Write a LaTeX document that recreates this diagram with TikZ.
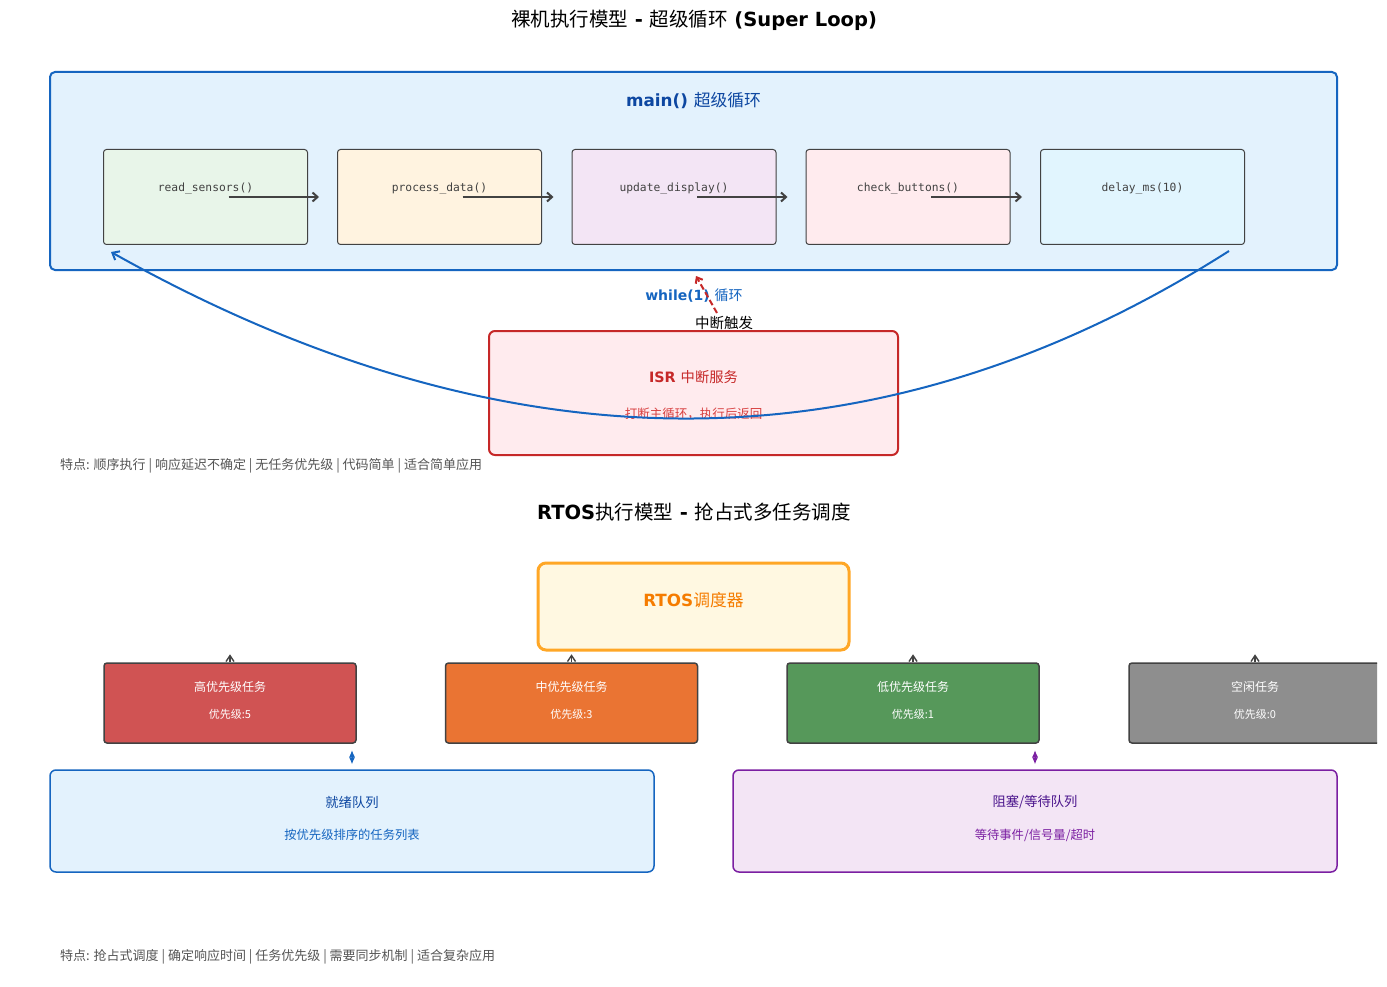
\documentclass[tikz,border=0pt]{standalone}
\usepackage{fontspec}
\setmainfont{DejaVu Sans}
\setmonofont{DejaVu Sans Mono}
\newfontfamily\zhfont{Noto Sans CJK SC}
\usetikzlibrary{arrows.meta,positioning,calc}

\newcommand{\pxs}[1]{\fontsize{#1}{#1}\selectfont}
\newcommand{\zh}[1]{{\zhfont\mdseries #1}}

\definecolor{loopblue}{HTML}{1565C0}
\definecolor{loopdark}{HTML}{0D47A1}
\definecolor{loopfill}{HTML}{E3F2FD}
\definecolor{boxgray}{HTML}{424242}
\definecolor{fA}{HTML}{E8F5E9}
\definecolor{fB}{HTML}{FFF3E0}
\definecolor{fC}{HTML}{F3E5F5}
\definecolor{fD}{HTML}{FFEBEE}
\definecolor{fE}{HTML}{E1F5FE}
\definecolor{isrred}{HTML}{C62828}
\definecolor{isrtext}{HTML}{D84040}
\definecolor{schedline}{HTML}{FFA726}
\definecolor{schedfill}{HTML}{FFF8E1}
\definecolor{schedtext}{HTML}{F57C00}
\definecolor{tHigh}{HTML}{D05353}
\definecolor{tMid}{HTML}{EA7433}
\definecolor{tLow}{HTML}{56985A}
\definecolor{tIdle}{HTML}{8E8E8E}
\definecolor{waitline}{HTML}{7B1FA2}
\definecolor{waitdark}{HTML}{4A148C}
\definecolor{waitfill}{HTML}{F3E5F5}
\definecolor{notegray}{HTML}{555555}

\tikzset{
    mainbox/.style={draw=loopblue, fill=loopfill, line width=2pt, rounded corners=5pt,
        minimum width=1287pt, minimum height=198pt, inner sep=0pt},
    funcbox/.style={draw=boxgray, line width=1pt, rounded corners=3pt,
        minimum width=204pt, minimum height=95pt, inner sep=0pt},
    functext/.style={font=\ttfamily\pxs{11.3}, text=boxgray, inner sep=0pt},
    flowarrow/.style={draw=boxgray, line width=2pt, -{Straight Barb[length=5pt,width=9pt]}},
    isrbox/.style={draw=isrred, fill=fD, line width=2pt, rounded corners=6pt,
        minimum width=409pt, minimum height=124pt, inner sep=0pt},
    schedbox/.style={draw=schedline, fill=schedfill, line width=3pt, rounded corners=8pt,
        minimum width=311pt, minimum height=87pt, inner sep=0pt},
    taskbox/.style={draw=boxgray, line width=1.5pt, rounded corners=3pt,
        minimum width=252pt, minimum height=80pt, inner sep=0pt},
    taskarrow/.style={draw=boxgray, line width=1.4pt, -{Straight Barb[length=6pt,width=8pt]}},
    queuebox/.style={line width=1.5pt, rounded corners=6pt,
        minimum width=604pt, minimum height=102pt, inner sep=0pt},
    linkmark/.style={line width=1pt, {Latex[length=7pt,width=6pt]}-{Latex[length=7pt,width=6pt]}},
    notetext/.style={anchor=west, text=notegray, font=\pxs{13}, inner sep=0pt},
    every node/.append style={inner sep=0pt}
}

\begin{document}
\begin{tikzpicture}[x=1pt, y=-1pt]
    \useasboundingbox[fill=white] (0,0) rectangle (1387,987);
    \begin{scope}
    \clip (0,0) rectangle (1377,987);

    % bare metal part
    \node[font=\bfseries\pxs{19.5}] (title1) at (694,20) {\zh{裸机执行模型} - \zh{超级循环} (Super Loop)};
    \node[mainbox] (main) at (693.5,171) {};
    \node[font=\bfseries\pxs{16.8}, text=loopdark] (maintitle) at ([yshift=70pt]main.center) {main() \zh{超级循环}};

    \foreach \i/\x/\c/\fn in {1/205.5/fA/read\_sensors(), 2/439.5/fB/process\_data(),
        3/674/fC/update\_display(), 4/908/fD/check\_buttons(), 5/1142.5/fE/delay\_ms(10)}{
        \node[funcbox, fill=\c] (f\i) at (\x,197) {};
        \node[functext] (ft\i) at ([yshift=8pt]f\i.center) {\fn};
    }
    \foreach \i [evaluate=\i as \j using int(\i+1)] in {1,...,4}
        \draw[flowarrow] ([xshift=23pt]f\i.center) -- ([xshift=-18pt]f\j.west);

    \node[font=\bfseries\pxs{14}, text=loopblue] (whiletxt) at (694,296) {while(1) \zh{循环}};

    \node[isrbox] (isr) at (693.5,393) {};
    \node[font=\bfseries\pxs{14.3}, text=isrred] (isrtitle) at ([yshift=16pt]isr.center) {ISR \zh{中断服务}};
    \node[font=\pxs{12.5}, text=isrtext] (isrsub) at ([yshift=-21pt]isr.center) {\zh{打断主循环，执行后返回}};

    \node[font=\pxs{14.5}] (irqtxt) at (724,323) {\zh{中断触发}};
    \coordinate (irq) at (717,313);
    \draw[isrred, line width=2pt, dashed, dash pattern=on 6pt off 3pt,
        -{Straight Barb[length=5pt,width=8pt]}] (irq) -- ([xshift=2.5pt,yshift=-5pt]main.south);

    % loop back
    \draw[loopblue, line width=2pt, {Straight Barb[length=6pt,width=10pt]}-]
        ([xshift=8pt,yshift=-7pt]f1.south west)
        .. controls (507,474) and (879,474) .. ([xshift=-16pt,yshift=-6pt]f5.south east);

    \node[notetext] (note1) at (60,466) {\zh{特点: 顺序执行 | 响应延迟不确定 | 无任务优先级 | 代码简单 | 适合简单应用}};

    % RTOS part
    \node[font=\bfseries\pxs{19.5}] (title2) at (694,512) {RTOS\zh{执行模型} - \zh{抢占式多任务调度}};
    \node[schedbox] (sched) at (693.5,606.5) {};
    \node[font=\bfseries\pxs{16.8}, text=schedtext] (schedtxt) at ([yshift=6.5pt]sched.center) {RTOS\zh{调度器}};

    \foreach \i/\x/\c/\nm/\pr in {1/230/tHigh/高优先级任务/5, 2/571.5/tMid/中优先级任务/3,
        3/913/tLow/低优先级任务/1, 4/1255/tIdle/空闲任务/0}{
        \node[taskbox, fill=\c] (t\i) at (\x,703) {};
        \node[text=white, font=\pxs{12}] (tn\i) at ([yshift=16.5pt]t\i.center) {\zh{\nm}};
        \node[text=white, font=\pxs{11}] (tp\i) at ([yshift=-11.5pt]t\i.center) {\zh{优先级:\pr}};
        \draw[taskarrow] (t\i.north) -- ++(0,-8);
    }

    \node[queuebox, draw=loopblue, fill=loopfill] (ready) at (352,821) {};
    \node[text=loopdark, font=\pxs{13.3}] (readytxt) at ([yshift=19pt]ready.center) {\zh{就绪队列}};
    \node[text=loopblue, font=\pxs{12.3}] (readysub) at ([yshift=-14pt]ready.center) {\zh{按优先级排序的任务列表}};
    \draw[linkmark, loopblue] ([yshift=5pt]ready.north) -- ([yshift=19pt]ready.north);

    \node[queuebox, draw=waitline, fill=waitfill] (blocked) at (1035,821) {};
    \node[text=waitdark, font=\pxs{13.3}] (blockedtxt) at ([yshift=19pt]blocked.center) {\zh{阻塞/等待队列}};
    \node[text=waitline, font=\pxs{12.3}] (blockedsub) at ([yshift=-14pt]blocked.center) {\zh{等待事件/信号量/超时}};
    \draw[linkmark, waitline] ([yshift=5pt]blocked.north) -- ([yshift=19pt]blocked.north);

    \node[notetext] (note2) at (60,957) {\zh{特点: 抢占式调度 | 确定响应时间 | 任务优先级 | 需要同步机制 | 适合复杂应用}};
    \end{scope}
\end{tikzpicture}
\end{document}
